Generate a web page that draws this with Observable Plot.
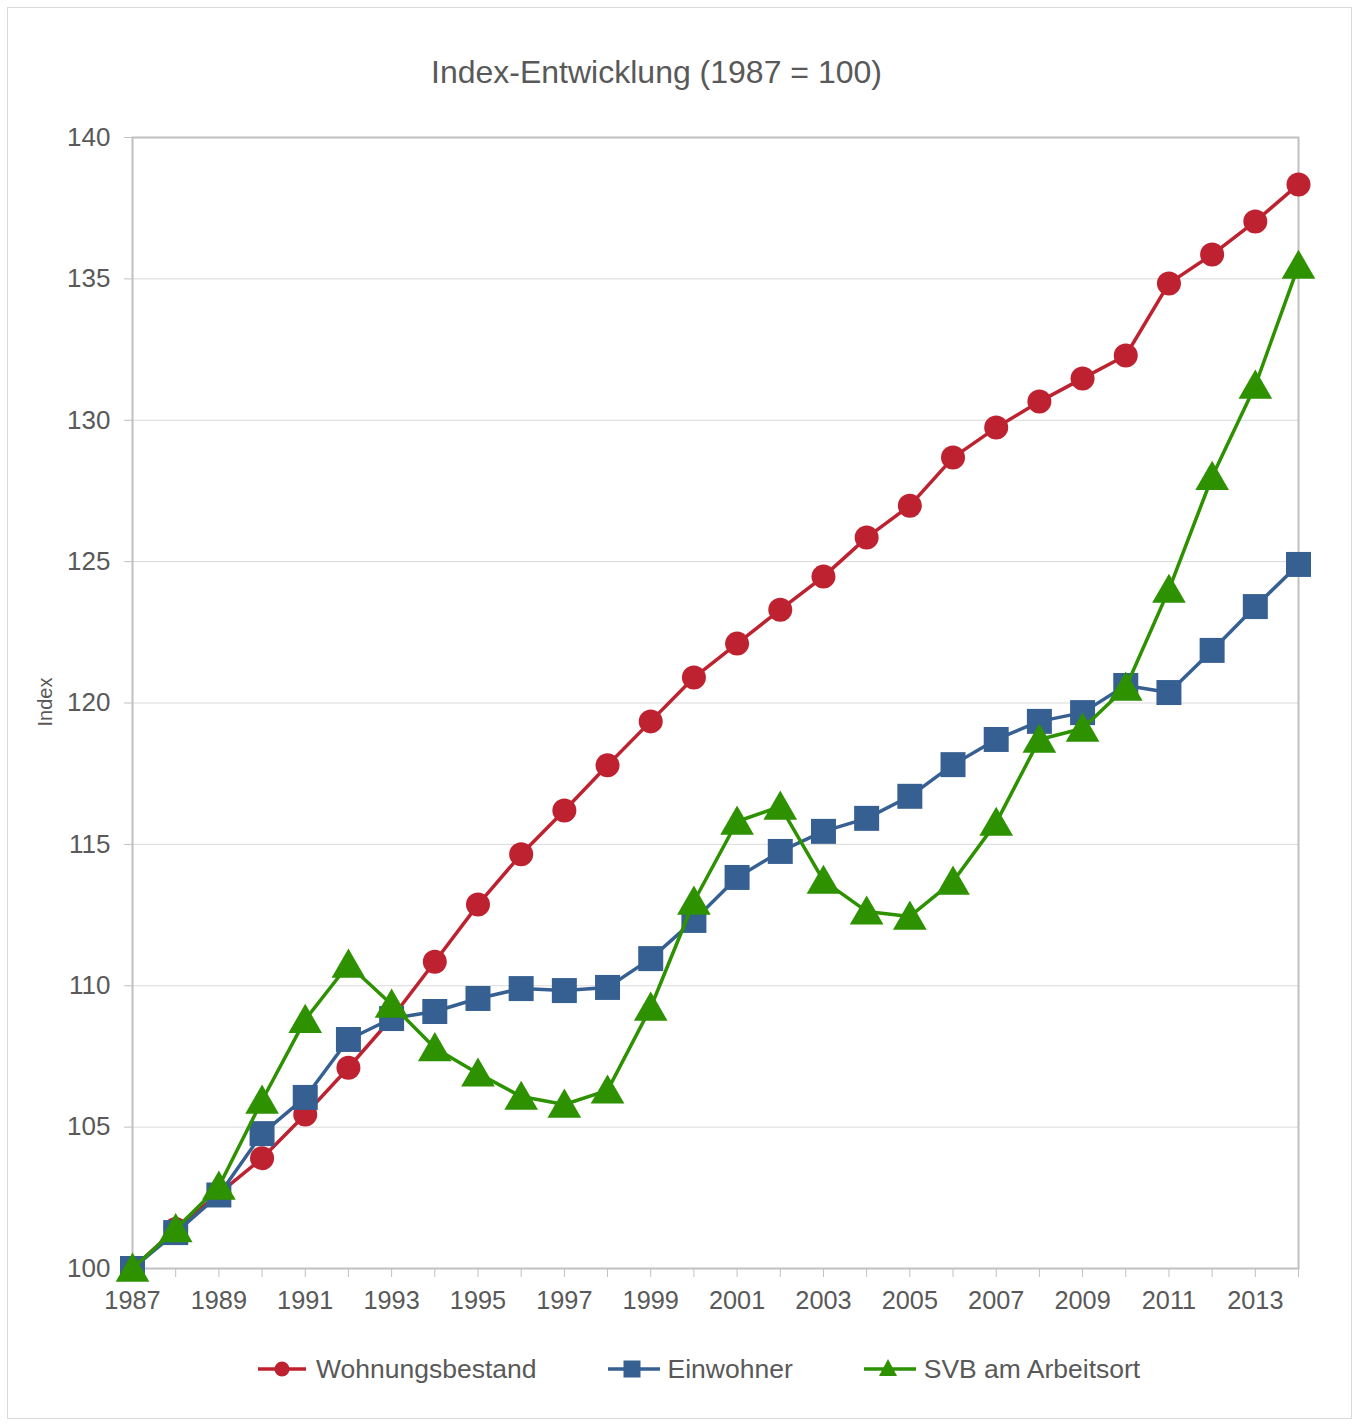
<!DOCTYPE html>
<html><head><meta charset="utf-8">
<script src="https://cdn.jsdelivr.net/npm/d3@7"></script>
<script src="https://cdn.jsdelivr.net/npm/@observablehq/plot@0.6"></script>
<style>
body{margin:0;background:#fff;font-family:"Liberation Sans",Arial,sans-serif;}
#wrap{position:relative;width:1359px;height:1428px;overflow:hidden;}
#border{position:absolute;left:7px;top:7px;width:1345px;height:1412px;border:1px solid #d9d9d9;box-sizing:border-box;}
#title{position:absolute;left:0;width:1313px;top:56px;text-align:center;font-size:32px;line-height:32px;color:#595959;white-space:nowrap;}
#plot{position:absolute;left:0;top:100px;}
#ylabel{position:absolute;left:45px;top:702px;transform:translate(-50%,-50%) rotate(-90deg);font-size:20px;line-height:20px;color:#595959;white-space:nowrap;}
#legend{position:absolute;left:258px;top:1352px;display:flex;align-items:center;font-size:26.5px;line-height:34px;color:#595959;white-space:nowrap;}
.item{display:flex;align-items:center;margin-right:71px;}
.item svg{margin-right:8px;}
</style></head>
<body><div id="wrap">
<div id="border"></div>
<div id="title">Index-Entwicklung (1987 = 100)</div>
<div id="plot"></div>
<div id="ylabel">Index</div>
<div id="legend"></div>
</div>
<script>
const years = d3.range(1987, 2015);
const seriesNames = ["Wohnungsbestand", "Einwohner", "SVB am Arbeitsort"];
const seriesColors = ["#BE2230", "#376092", "#2D9100"];
const seriesSymbols = ["circle", "square", "triangle"];
const wohnungsbestand = [100, 101.4, 102.65, 103.9, 105.45, 107.1, 108.85, 110.85, 112.87, 114.65, 116.2, 117.8, 119.35, 120.9, 122.1, 123.3, 124.47, 125.85, 126.98, 128.68, 129.74, 130.66, 131.48, 132.29, 134.84, 135.86, 137.03, 138.34];
const einwohner = [100, 101.27, 102.6, 104.77, 106.05, 108.1, 108.84, 109.09, 109.55, 109.9, 109.83, 109.94, 110.96, 112.31, 113.83, 114.75, 115.46, 115.92, 116.7, 117.82, 118.71, 119.35, 119.66, 120.62, 120.37, 121.86, 123.41, 124.9];
const svb = [100, 101.4, 102.9, 105.94, 108.8, 110.75, 109.34, 107.8, 106.9, 106.08, 105.8, 106.3, 109.23, 112.98, 115.81, 116.34, 113.72, 112.63, 112.45, 113.69, 115.77, 118.71, 119.1, 120.55, 124.01, 128.0, 131.23, 135.47];
const yTicks = [100, 105, 110, 115, 120, 125, 130, 135, 140];
const xLabelYears = years.filter(y => y % 2 === 1);

const allSeries = [wohnungsbestand, einwohner, svb];
const markSizes = [12, 14.1, 12.5];
const markDy = [0, 0, 3.5];

const marks = [
  Plot.gridY(yTicks, {stroke: "#d9d9d9", strokeOpacity: 1, strokeWidth: 1}),
  Plot.frame({stroke: "#c0c0c0", strokeWidth: 2}),
  Plot.axisY(yTicks, {tickSize: 8, tickPadding: 14, fontSize: 26, stroke: "#c0c0c0", fill: "#595959", label: null}),
  Plot.axisX(years, {tickSize: 9, tickPadding: 14, fontSize: 25.3, stroke: "#c0c0c0", fill: "#595959", label: null,
    tickFormat: d => (xLabelYears.includes(d) ? String(d) : "")})
];
allSeries.forEach((vals, i) => {
  const data = years.map((y, j) => ({year: y, value: vals[j]}));
  marks.push(Plot.line(data, {x: "year", y: "value", stroke: seriesColors[i], strokeWidth: 3.5}));
  marks.push(Plot.dot(data, {x: "year", y: "value", fill: seriesColors[i], symbol: seriesSymbols[i], r: markSizes[i], dy: markDy[i], stroke: "none"}));
});

const chart = Plot.plot({
  width: 1359, height: 1240,
  marginTop: 37, marginBottom: 72, marginLeft: 132, marginRight: 61,
  x: {domain: [1987, 2014], type: "linear"},
  y: {domain: [100, 140]},
  style: {fontFamily: "'Liberation Sans', Arial, sans-serif", color: "#595959", background: "transparent", overflow: "visible"},
  marks
});
document.getElementById("plot").appendChild(chart);

const legend = document.getElementById("legend");
seriesNames.forEach((name, i) => {
  const item = document.createElement("div");
  item.className = "item";
  let marker;
  if (i === 0) marker = `<circle cx="24" cy="11" r="7.5" fill="${seriesColors[i]}"/>`;
  else if (i === 1) marker = `<rect x="15.5" y="2.5" width="17" height="17" fill="${seriesColors[i]}"/>`;
  else marker = `<path d="M24 1 L33 18 L15 18 Z" fill="${seriesColors[i]}"/>`;
  item.innerHTML = `<svg width="${i === 0 ? 50 : 52}" height="22"><line x1="0" y1="11" x2="${i === 0 ? 48 : 52}" y2="11" stroke="${seriesColors[i]}" stroke-width="3.5"/>${marker}</svg><span>${name}</span>`;
  legend.appendChild(item);
});
</script>
</body></html>
